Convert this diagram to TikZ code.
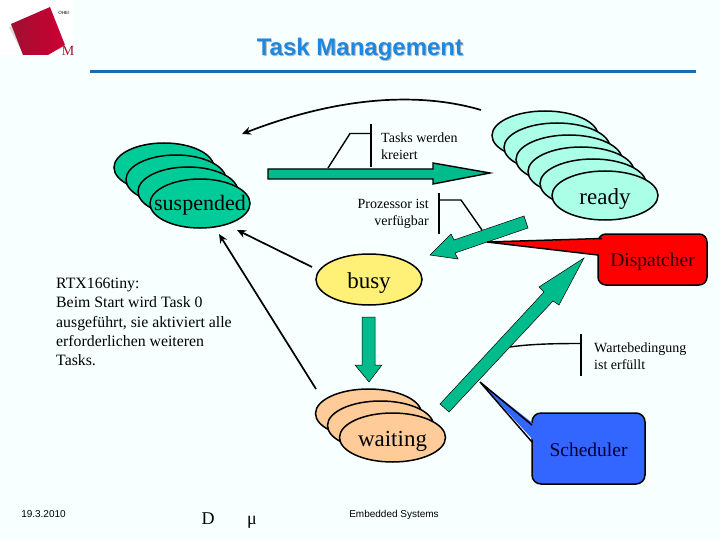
\documentclass[tikz,border=0pt]{standalone}
\usepackage{fontspec}
\setmainfont{Liberation Serif}
\newfontfamily\arialfont{Liberation Sans}
\usepackage{xcolor}
\usetikzlibrary{arrows.meta,positioning,shapes,calc}
\definecolor{slidebg}{RGB}{248,255,255}
\definecolor{titleblue}{RGB}{30,136,224}
\definecolor{ruleblue}{RGB}{30,105,175}
\definecolor{suspgreen}{RGB}{0,204,153}
\definecolor{readygreen}{RGB}{170,255,230}
\definecolor{waitorange}{RGB}{255,204,153}
\definecolor{busyyellow}{RGB}{255,241,120}
\definecolor{schedblue}{RGB}{51,102,255}
\definecolor{logored}{RGB}{205,0,50}
\definecolor{logodark}{RGB}{160,15,50}
\newcommand{\lowertext}[2]{\raisebox{-#1pt}[\height][\depth]{#2}}
\tikzset{
  taskstate/.style={ellipse, draw=black, line width=1.5pt, inner sep=-20pt, minimum width=106pt, minimum height=49pt, font=\fontsize{23}{25}\selectfont},
  blockarrow/.style={draw=black, line width=0.5pt, fill=suspgreen!92!black},
  thinarrow/.style={line width=1.7pt, -{Stealth[length=9pt,width=8pt]}},
  bracket/.style={line width=1.4pt},
  notetext/.style={font=\fontsize{14}{17}\selectfont, inner sep=0pt},
  dispatchbox/.style={draw=black, line width=1.5pt, rounded corners=8pt, inner sep=0pt, font=\fontsize{19.5}{21}\selectfont},
  foottext/.style={font=\arialfont\fontsize{10}{11}\selectfont, inner sep=0pt}
}
\begin{document}
\begin{tikzpicture}[x=1pt,y=-1pt]
  \fill[slidebg] (0,0) rectangle (720,540);
  % logo
  \fill[white] (0,0) rectangle (73,55);
  \begin{scope}
    \clip (0,0) rectangle (73,55);
    \fill[gray!30] (9,27) -- (48,10) -- (63,48) -- (25,58) -- cycle;
    \shade[left color=logodark, right color=logored] (11,24) -- (50,7) -- (65,45) -- (48,55) -- (23,55) -- cycle;
  \end{scope}
  \node[font=\fontsize{14}{14}\selectfont, text=logodark, inner sep=0pt] (logom) at (68,51) {M};
  \node[foottext, font=\arialfont\fontsize{4.5}{5}\selectfont] (logotext) at (64,13) {OHEI};
  % title
  \node[font=\arialfont\bfseries\fontsize{24}{26}\selectfont, text=gray!55, inner sep=0pt] (titleshadow) at (361,50) {Task Management};
  \node[font=\arialfont\bfseries\fontsize{24}{26}\selectfont, text=titleblue, inner sep=0pt] (title) at (360,49) {Task Management};
  \draw[ruleblue, line width=2.2pt] (90,71.5) -- (696,71.5);
  % suspended
  \foreach \i/\cx/\cy in {1/164/167.5, 2/176/179.5, 3/188/191.5}
    \node[taskstate, minimum width=100pt, fill=suspgreen] (susp\i) at (\cx,\cy) {};
  \node[taskstate, minimum width=100pt, fill=suspgreen, font=\fontsize{22}{24}\selectfont] (suspended) at (200,203.5) {\lowertext{2}{suspended}};
  % ready
  \foreach \i/\cx/\cy in {1/545/135.5, 2/557/147.5, 3/569/159.5, 4/581/171.5, 5/593/183.5}
    \node[taskstate, fill=readygreen] (ready\i) at (\cx,\cy) {};
  \node[taskstate, fill=readygreen] (ready) at (605,195.5) {\lowertext{3.5}{ready}};
  % waiting
  \foreach \i/\cx/\cy in {1/368.5/413.5, 2/380.5/425.5}
    \node[taskstate, fill=waitorange] (wait\i) at (\cx,\cy) {};
  \node[taskstate, fill=waitorange] (waiting) at (392.5,437.5) {\lowertext{3.5}{waiting}};
  % busy
  \node[taskstate, fill=busyyellow, minimum height=51pt] (busy) at (369,279.5) {\lowertext{3.5}{busy}};
  % block arrows
  \draw[blockarrow, line width=1.4pt] (268,169) -- (433,169) -- (433,163) -- (490,173) -- (433,184) -- (433,179) -- (268,179) -- cycle;
  \draw[blockarrow] (524,216) -- (528,228) -- (455,253) -- (458,259) -- (430,255) -- (451,234) -- (454,240) -- cycle;
  \draw[blockarrow] (362,317) -- (375,317) -- (375,365) -- (382,365) -- (369,382) -- (355,365) -- (362,365) -- cycle;
  \draw[blockarrow] (440,404) -- (544,292) -- (539,287) -- (584,258) -- (559,305) -- (553,301) -- (449,412) -- cycle;
  % thin arrows
  \coordinate (createstart) at (481,110);
  \coordinate (createend) at (242,134);
  \coordinate (busystart) at (312,267);
  \coordinate (busyend) at (237,230);
  \coordinate (waitstart) at (316,389);
  \coordinate (waitend) at (219,234);
  \draw[thinarrow] (createstart) .. controls (420,92) and (340,96) .. (createend);
  \draw[thinarrow] (busystart) -- (busyend);
  \draw[thinarrow] (waitstart) -- (waitend);
  % brackets
  \draw[bracket] (371,124) -- (371,167);
  \draw[bracket] (371,133.5) -- (350,133.5) -- (328,168);
  \draw[bracket] (439,193) -- (439,234);
  \draw[bracket] (439,200) -- (461,200) -- (482,230);
  \draw[bracket] (581,334) -- (581,376);
  \draw[bracket] (581,343.5) .. controls (555,343.5) and (530,344) .. (510,347);
  % notes
  \node[notetext, anchor=west, align=left] (created) at (381,146) {Tasks werden\\kreiert};
  \node[notetext, anchor=east, align=right] (cpufree) at (429,214) {Prozessor ist\\verfügbar};
  \node[notetext, anchor=west, align=left] (waitdone) at (594,356) {Wartebedingung\\ist erfüllt};
  \node[anchor=north west, align=left, inner sep=0pt, font=\fontsize{15.8}{19.3}\selectfont] (rtxnote) at (56,278) {RTX166tiny:\\Beim Start wird Task 0\\ausgeführt, sie aktiviert alle\\erforderlichen weiteren\\Tasks.};
  % callouts
  \node[dispatchbox, fill=red, minimum width=109pt, minimum height=51pt, text=black!85!red] (dispatcher) at (652.5,259.5) {\lowertext{2.5}{Dispatcher}};
  \coordinate (disptip) at (487,242);
  \fill[red] (disptip) -- (603,239) -- (603,255) -- cycle;
  \draw[line width=1.5pt] (598,255) -- (disptip) -- (602,238.5);
  \node[dispatchbox, fill=schedblue, minimum width=113pt, minimum height=71pt, rounded corners=9pt, text=black!80!blue] (scheduler) at (588.5,448.5) {\lowertext{1}{Scheduler}};
  \coordinate (schedtip) at (480,382);
  \fill[schedblue] (schedtip) -- (535,425) -- (535,442) -- cycle;
  \draw[line width=1.5pt] (532,425) -- (schedtip) -- (532,442);
  % footer
  \node[foottext] (date) at (43.5,514) {19.3.2010};
  \node[foottext] (course) at (394,514.5) {Embedded Systems};
  \node[font=\fontsize{18}{20}\selectfont, inner sep=0pt] (footd) at (208,519) {D};
  \node[font=\fontsize{18}{20}\selectfont, inner sep=0pt] (footmu) at (252,522) {μ};
\end{tikzpicture}
\end{document}
